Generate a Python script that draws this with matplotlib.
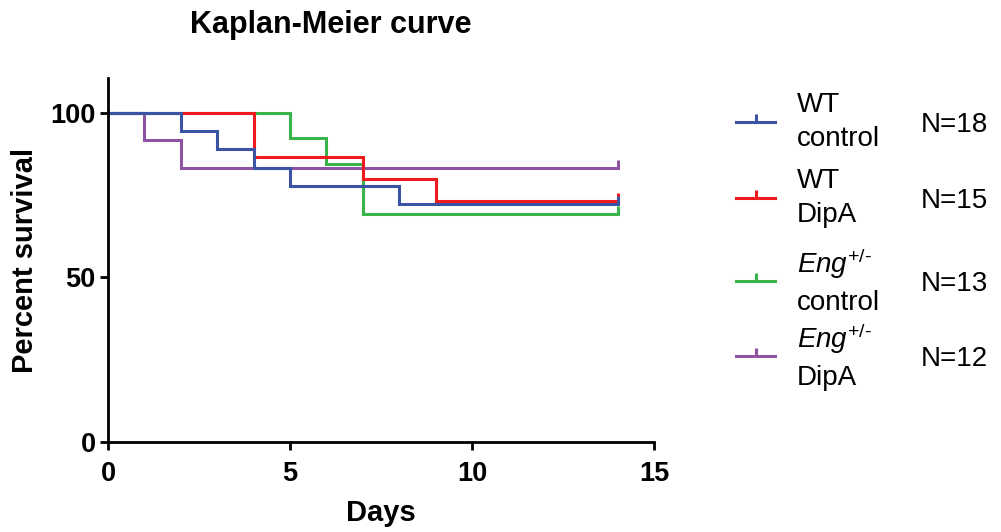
import matplotlib
matplotlib.use("Agg")
import matplotlib.pyplot as plt
from matplotlib.lines import Line2D

plt.rcParams['font.family'] = ['Liberation Sans', 'DejaVu Sans']
plt.rcParams['mathtext.fontset'] = 'custom'
plt.rcParams['mathtext.rm'] = 'Liberation Sans'
plt.rcParams['mathtext.it'] = 'Liberation Sans:italic'
plt.rcParams['mathtext.bf'] = 'Liberation Sans:bold'

# ---- data ----
wt_ctrl_days = [0, 2, 3, 4, 5, 8, 14]
wt_ctrl_surv = [100, 94.4, 88.9, 83.3, 77.8, 72.2, 72.2]

wt_dipa_days = [0, 4, 7, 9, 14]
wt_dipa_surv = [100, 86.7, 80.0, 73.3, 73.3]

eng_ctrl_days = [0, 5, 6, 7, 14]
eng_ctrl_surv = [100, 92.3, 84.6, 69.2, 69.2]

eng_dipa_days = [0, 1, 2, 14]
eng_dipa_surv = [100, 91.7, 83.3, 83.3]

series_labels = ["WT\ncontrol", "WT\nDipA",
                 "$\\mathit{Eng}^{+/\\text{-}}$\ncontrol", "$\\mathit{Eng}^{+/\\text{-}}$\nDipA"]
series_n = ["N=18", "N=15", "N=13", "N=12"]
series_colors = ["#3a53a4", "#f0191e", "#38b44a", "#8e53a2"]

x_ticks = [0, 5, 10, 15]
y_ticks = [0, 50, 100]

series = [(wt_ctrl_days, wt_ctrl_surv), (wt_dipa_days, wt_dipa_surv),
          (eng_ctrl_days, eng_ctrl_surv), (eng_dipa_days, eng_dipa_surv)]

fig = plt.figure(figsize=(10.01, 5.32), dpi=100)
ax = fig.add_axes([108/1001, 1 - 442/532, 546/1001, 364/532])

lw = 2.2
# first series drawn on top
n_series = len(series)
for i, ((d, s), c) in enumerate(zip(series, series_colors)):
    z = 3 + (n_series - i) * 0.1
    ax.plot(d, s, drawstyle='steps-post', color=c, lw=lw, solid_joinstyle='miter', zorder=z)
    ax.plot([d[-1]], [s[-1]], marker=2, color=c, markersize=6, mew=lw, zorder=z)

ax.set_xlim(0, 15)
ax.set_ylim(0, 110.6)
ax.set_xticks(x_ticks)
ax.set_yticks(y_ticks)
ax.set_xticklabels([str(v) for v in x_ticks], fontsize=19.5, fontweight='bold')
ax.set_yticklabels([str(v) for v in y_ticks], fontsize=19.5, fontweight='bold')
for sp in ['top', 'right']:
    ax.spines[sp].set_visible(False)
for sp in ['left', 'bottom']:
    ax.spines[sp].set_linewidth(2.0)
    ax.spines[sp].set_zorder(4)
ax.tick_params(axis='x', direction='out', length=6, width=2.0, pad=8)
ax.tick_params(axis='y', direction='out', length=6, width=2.0, pad=3)

ax.set_xlabel("Days", fontsize=21, fontweight='bold', labelpad=8)
ax.set_ylabel("Percent survival", fontsize=21, fontweight='bold', labelpad=8)

fig.text(331/1001, 1 - 25/532, "Kaplan-Meier curve", fontsize=22, fontweight='bold',
         ha='center', va='center')

# ---- legend (manual, figure pixel coordinates) ----
leg_y = [122, 198, 281, 356]
for yy, lab, n, c in zip(leg_y, series_labels, series_n, series_colors):
    yf = 1 - yy/532
    fig.add_artist(Line2D([736/1001, 775/1001], [yf, yf], color=c, lw=lw,
                          transform=fig.transFigure))
    fig.add_artist(Line2D([755.5/1001], [yf], marker=2, color=c, markersize=6, mew=lw,
                          transform=fig.transFigure))
    fig.text(797/1001, yf, lab, fontsize=20, ha='left', va='center', linespacing=1.45)
    fig.text(921/1001, yf - 3/532, n, fontsize=20, ha='left', va='center')

fig.savefig("out.png", dpi=100)
